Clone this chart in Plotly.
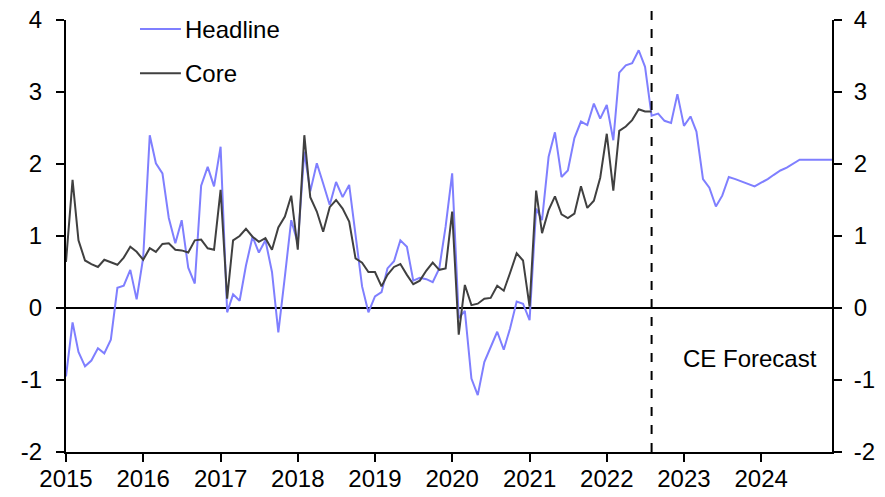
import pandas as pd
import plotly.graph_objects as go

# monthly, Jan 2015 - Dec 2024 (forecast from Aug 2022)
headline = [
    -0.95, -0.20, -0.61, -0.81, -0.73, -0.56, -0.63, -0.44, 0.28, 0.31, 0.53, 0.12,
    0.70, 2.40, 2.01, 1.87, 1.25, 0.90, 1.22, 0.56, 0.34, 1.70, 1.96, 1.69,
    2.24, -0.06, 0.19, 0.10, 0.59, 0.99, 0.77, 0.94, 0.50, -0.34, 0.44, 1.22,
    0.90, 2.17, 1.62, 2.01, 1.73, 1.43, 1.75, 1.54, 1.71, 1.04, 0.30, -0.06,
    0.16, 0.22, 0.55, 0.65, 0.94, 0.85, 0.38, 0.42, 0.40, 0.36, 0.55, 1.13,
    1.87, -0.14, -0.04, -0.98, -1.21, -0.75, -0.54, -0.33, -0.58, -0.28, 0.09, 0.06,
    -0.17, 1.38, 1.22, 2.10, 2.44, 1.82, 1.91, 2.36, 2.59, 2.54, 2.84, 2.63,
    2.82, 2.33, 3.27, 3.37, 3.40, 3.58, 3.35, 2.67, 2.70, 2.60, 2.57, 2.97,
    2.53, 2.66, 2.45, 1.79, 1.67, 1.41, 1.56, 1.82, 1.79, 1.76, 1.73, 1.69,
    1.74, 1.79, 1.85, 1.91, 1.95, 2.00, 2.06, 2.06, 2.06, 2.06, 2.06, 2.06,
]
core = [
    0.64, 1.78, 0.94, 0.66, 0.61, 0.57, 0.67, 0.63, 0.60, 0.70, 0.85, 0.78,
    0.67, 0.83, 0.78, 0.89, 0.90, 0.81, 0.80, 0.77, 0.94, 0.95, 0.83, 0.81,
    1.64, 0.13, 0.94, 1.00, 1.10, 0.99, 0.92, 0.97, 0.81, 1.12, 1.27, 1.56,
    0.81, 2.40, 1.54, 1.34, 1.06, 1.40, 1.50, 1.38, 1.20, 0.69, 0.63, 0.50,
    0.50, 0.30, 0.46, 0.57, 0.61, 0.46, 0.33, 0.38, 0.52, 0.63, 0.53, 0.55,
    1.34, -0.37, 0.32, 0.04, 0.06, 0.13, 0.14, 0.31, 0.24, 0.49, 0.76, 0.66,
    0.02, 1.63, 1.04, 1.36, 1.55, 1.30, 1.25, 1.31, 1.69, 1.39, 1.49, 1.81,
    2.42, 1.63, 2.46, 2.52, 2.61, 2.76, 2.73, 2.73,
]
dates = pd.date_range("2015-01-01", periods=len(headline), freq="MS")
forecast_start = "2022-08-01"
y_ticks = [-2, -1, 0, 1, 2, 3, 4]
y_labels = ["-2", "-1", "0", "1", "2", "3", "4"]

HEAD_COL = "#7f7fff"
CORE_COL = "#404040"
FONT = "Arial, Liberation Sans, sans-serif"
FS = 24

fig = go.Figure()
# dummy trace so the right-hand axis gets drawn
fig.add_trace(go.Scatter(x=dates, y=headline, yaxis="y2", mode="lines",
                         line=dict(color="rgba(0,0,0,0)", width=0),
                         hoverinfo="skip", showlegend=False))
fig.add_trace(go.Scatter(x=dates, y=headline, name="Headline", mode="lines",
                         line=dict(color=HEAD_COL, width=2), showlegend=False))
fig.add_trace(go.Scatter(x=dates[:len(core)], y=core, name="Core", mode="lines",
                         line=dict(color=CORE_COL, width=2), showlegend=False))

axis_common = dict(range=[-2, 4], tickvals=y_ticks, ticktext=y_labels, showgrid=False,
                   showline=True, linecolor="black", linewidth=2, ticks="outside",
                   ticklen=8, tickwidth=2, tickcolor="black", automargin=False,
                   tickfont=dict(size=FS, color="black"))

fig.update_layout(
    width=885, height=497,
    margin=dict(l=66, r=53, t=20, b=45),
    paper_bgcolor="white", plot_bgcolor="white",
    font=dict(family=FONT, size=FS, color="black"),
    xaxis=dict(type="date", range=["2015-01-01", "2024-12-01"], tick0="2015-01-01",
               dtick="M12", tickformat="%Y", showgrid=False, showline=True,
               linecolor="black", linewidth=2, ticks="outside", ticklen=8,
               tickwidth=2, tickcolor="black", zeroline=False, automargin=False,
               ticklabelstandoff=-4, tickfont=dict(size=FS, color="black")),
    yaxis=dict(zeroline=True, zerolinecolor="black", zerolinewidth=2,
               ticklabelstandoff=9, **axis_common),
    yaxis2=dict(overlaying="y", side="right", anchor="x", zeroline=False,
                ticklabelstandoff=7, **axis_common),
    showlegend=False,
)

# forecast divider
fig.add_shape(type="line", xref="x", yref="paper", x0=forecast_start, x1=forecast_start,
              y0=0, y1=1.03, line=dict(color="black", width=2, dash="dash"))

# legend drawn by hand to match the short line samples
legend_items = [("Headline", HEAD_COL, 0.979), ("Core", CORE_COL, 0.877)]
for label, col, yy in legend_items:
    fig.add_shape(type="line", xref="paper", yref="paper", x0=0.0966, x1=0.150,
                  y0=yy, y1=yy, line=dict(color=col, width=2))
    fig.add_annotation(text=label, xref="paper", yref="paper", x=0.153, y=yy,
                       xanchor="left", yanchor="middle", showarrow=False,
                       font=dict(size=FS, color="black"))

fig.add_annotation(text="CE Forecast", xref="paper", yref="y", x=0.983, y=-0.7,
                   xanchor="right", yanchor="middle", showarrow=False,
                   font=dict(size=FS, color="black"))

# page body has a default margin; drop it so the figure fills the window
fig.write_html("out.html", config={"displayModeBar": False},
               post_script="document.body.style.margin='0';")
